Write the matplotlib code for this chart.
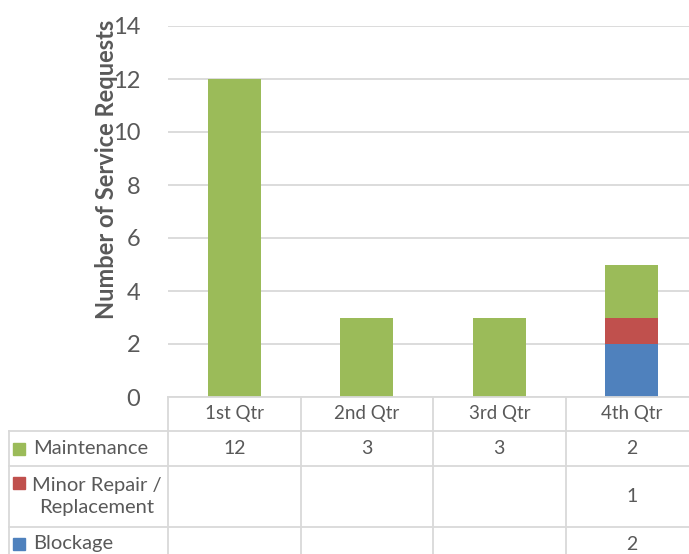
import numpy as np
import matplotlib
matplotlib.use("Agg")
import matplotlib.pyplot as plt
from matplotlib.transforms import blended_transform_factory
from matplotlib.lines import Line2D
from matplotlib.patches import Rectangle

categories = ["1st Qtr", "2nd Qtr", "3rd Qtr", "4th Qtr"]
maintenance = [12, 3, 3, 2]
minor_repair = [None, None, None, 1]
blockage = [None, None, None, 2]
series_names = ["Maintenance", "Minor Repair /\nReplacement", "Blockage"]
y_ticks = [0, 2, 4, 6, 8, 10, 12, 14]

GREEN = "#9BBB59"
RED = "#C0504D"
BLUE = "#4F81BD"
GRID = "#D9D9D9"
TEXT = "#595959"

plt.rcParams["font.family"] = ["Lato", "DejaVu Sans"]

W, H = 689, 554
fig = plt.figure(figsize=(W / 100, H / 100), dpi=100)


def fy(y):
    return 1 - y / H


def fx(x):
    return x / W


# plot area in pixel coordinates (extends past the right edge)
left, right, top, bottom = 168, 698, 26, 397
ax = fig.add_axes([fx(left), fy(bottom), (right - left) / W, (bottom - top) / H])

x = np.arange(len(categories))
blk = np.array([v if v is not None else 0 for v in blockage], float)
mnr = np.array([v if v is not None else 0 for v in minor_repair], float)
mnt = np.array([v if v is not None else 0 for v in maintenance], float)

bw = 0.4
ax.bar(x, blk, bw, color=BLUE, zorder=3)
ax.bar(x, mnr, bw, bottom=blk, color=RED, zorder=3)
ax.bar(x, mnt, bw, bottom=blk + mnr, color=GREEN, zorder=3)

ax.set_xlim(-0.5, len(categories) - 0.5)
ax.set_ylim(0, 14)
ax.set_yticks(y_ticks)
ax.set_yticklabels([str(t) for t in y_ticks], fontsize=17, color=TEXT)
ax.tick_params(axis="y", length=0, pad=20)
ax.set_xticks([])
ax.yaxis.grid(True, color=GRID, linewidth=1.3, zorder=0)
for s in ax.spines.values():
    s.set_visible(False)

fig.text(fx(107), fy(169), "Number of Service Requests", rotation=90,
         ha="center", va="center", fontsize=17, fontweight="bold", color=TEXT)

# data table below the plot
tr = blended_transform_factory(ax.transData, fig.transFigure)
line_kw = dict(color=GRID, linewidth=1.3, transform=fig.transFigure, clip_on=False)

row_edges = [397, 431, 466, 527, 560]
# horizontal rules
fig.add_artist(Line2D([fx(left), 1], [fy(397), fy(397)], **line_kw))
for y in row_edges[1:4]:
    fig.add_artist(Line2D([fx(9), 1], [fy(y), fy(y)], **line_kw))
# vertical rules
fig.add_artist(Line2D([fx(9), fx(9)], [fy(431), fy(560)], **line_kw))
for i in range(len(categories) + 1):
    xd = i - 0.5
    fig.add_artist(Line2D([xd, xd], [fy(397), fy(560)], color=GRID, linewidth=1.3,
                          transform=tr, clip_on=False))

for i, c in enumerate(categories):
    fig.text(i, fy(414), c, transform=tr, ha="center", va="center",
             fontsize=13.5, color=TEXT)

rows = [maintenance, minor_repair, blockage]
colors = [GREEN, RED, BLUE]
row_centers = [448.5, 496.5, 544]
for name, vals, col, yc in zip(series_names, rows, colors, row_centers):
    for i, v in enumerate(vals):
        if v is not None:
            fig.text(i, fy(yc), str(v), transform=tr, ha="center", va="center",
                     fontsize=14, color=TEXT)
    if "\n" in name:
        key_y = yc - 14
        fig.text(fx(97), fy(yc), name, ha="center", va="center",
                 multialignment="center", fontsize=14.5, color=TEXT, linespacing=1.3)
    else:
        key_y = yc
        fig.text(fx(33), fy(yc), name, ha="left", va="center",
                 fontsize=14.5, color=TEXT)
    fig.add_artist(Rectangle((fx(13), fy(key_y + 6)), 12 / W, 12 / H,
                             color=col, transform=fig.transFigure))

fig.savefig("out.png", dpi=100)
